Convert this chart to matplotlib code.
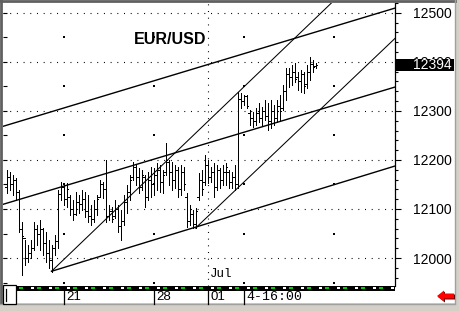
import numpy as np
import matplotlib
matplotlib.use("Agg")
from matplotlib import pyplot as plt
from matplotlib.collections import LineCollection
from matplotlib.patches import Rectangle, Polygon
from matplotlib.ticker import MultipleLocator
import matplotlib.transforms as mtransforms

plt.rcParams['lines.scale_dashes'] = False

# 4-hour bars, EUR/USD (price x 10000)
highs = [12180, 12176, 12169, 12163, 12139, 12073, 12037, 12027, 12037, 12073,
         12067, 12078, 12061, 12053, 12037, 12027, 12047, 12139, 12155, 12149,
         12153, 12129, 12118, 12135, 12129, 12139, 12135, 12129, 12108, 12118,
         12129, 12159, 12155, 12200, 12108, 12104, 12118, 12108, 12098, 12129,
         12149, 12169, 12196, 12190, 12184, 12180, 12169, 12176, 12186, 12184,
         12194, 12190, 12180, 12235, 12200, 12196, 12190, 12186, 12190, 12186,
         12133, 12108, 12098, 12102, 12173, 12180, 12210, 12200, 12186, 12194,
         12190, 12184, 12190, 12194, 12180, 12176, 12190, 12339, 12337, 12333,
         12333, 12302, 12298, 12306, 12316, 12308, 12322, 12316, 12322, 12312,
         12322, 12333, 12353, 12388, 12388, 12394, 12398, 12380, 12384, 12380,
         12394, 12410, 12404, 12398]
lows = [12133, 12139, 12129, 12118, 12053, 11965, 11986, 11992, 12000, 12016,
        12027, 12016, 12006, 11992, 11980, 11971, 12006, 12020, 12118, 12108,
        12104, 12088, 12078, 12088, 12092, 12098, 12084, 12073, 12067, 12073,
        12088, 12124, 12122, 12073, 12078, 12073, 12082, 12053, 12037, 12067,
        12092, 12118, 12159, 12149, 12133, 12139, 12104, 12118, 12124, 12129,
        12139, 12135, 12133, 12169, 12149, 12139, 12143, 12124, 12129, 12139,
        12063, 12067, 12061, 12061, 12118, 12129, 12149, 12153, 12155, 12124,
        12139, 12143, 12149, 12149, 12143, 12143, 12139, 12143, 12306, 12312,
        12306, 12271, 12267, 12271, 12278, 12271, 12282, 12261, 12265, 12271,
        12278, 12282, 12302, 12322, 12349, 12353, 12359, 12343, 12339, 12337,
        12347, 12363, 12380, 12388]
opens = [12145, 12165, 12150, 12160, 12135, 12060, 12040, 12000, 12010, 12020,
         12060, 12050, 12060, 12030, 12010, 11995, 12020, 12035, 12130, 12145,
         12120, 12125, 12100, 12090, 12115, 12110, 12120, 12095, 12085, 12080,
         12100, 12125, 12150, 12140, 12085, 12095, 12085, 12100, 12065, 12075,
         12115, 12135, 12165, 12185, 12165, 12145, 12165, 12125, 12160, 12150,
         12170, 12180, 12155, 12175, 12195, 12175, 12160, 12180, 12140, 12175,
         12125, 12075, 12090, 12070, 12125, 12160, 12155, 12190, 12165, 12175,
         12145, 12180, 12160, 12175, 12175, 12155, 12165, 12150, 12325, 12320,
         12330, 12295, 12285, 12280, 12295, 12285, 12300, 12290, 12280, 12300,
         12285, 12310, 12305, 12340, 12375, 12370, 12380, 12370, 12360, 12375,
         12355, 12380, 12395, 12392]
closes = [12165, 12150, 12160, 12135, 12060, 12045, 12000, 12010, 12020, 12060,
          12050, 12060, 12030, 12010, 11995, 12020, 12035, 12130, 12145, 12120,
          12140, 12100, 12090, 12115, 12110, 12120, 12095, 12085, 12080, 12100,
          12120, 12150, 12140, 12085, 12095, 12080, 12100, 12065, 12075, 12115,
          12135, 12160, 12185, 12165, 12145, 12170, 12125, 12160, 12150, 12170,
          12180, 12155, 12170, 12200, 12175, 12160, 12180, 12140, 12175, 12150,
          12075, 12090, 12070, 12095, 12160, 12140, 12190, 12165, 12175, 12145,
          12180, 12160, 12175, 12185, 12155, 12165, 12150, 12325, 12320, 12330,
          12310, 12285, 12280, 12295, 12285, 12300, 12290, 12280, 12300, 12285,
          12310, 12300, 12340, 12375, 12370, 12380, 12365, 12360, 12375, 12350,
          12380, 12395, 12390, 12394]

# trend lines: (bar index, price) end points
trend_lines = [
    [(-2, 12267), (129.7, 12510)],
    [(-2, 12108), (129.7, 12349)],
    [(15, 11973), (129.7, 12188)],
    [(15, 11973), (108.3, 12520)],
    [(63, 12061), (129.7, 12449)],
]

date_pos = [19, 49, 67, 79]
date_labels = ["21", "28", "01", "4-16:00"]
last_price = 12394
title = "EUR/USD"

W, H = 459, 311
fig = plt.figure(figsize=(W / 100, H / 100), dpi=100, facecolor="#d4d0c8")


def px(x, y):
    return x / W, 1 - y / H


# white panel + 3d border
fig.patches.append(Rectangle(px(0, 303), 455 / W, 303 / H, transform=fig.transFigure,
                             facecolor="white", edgecolor="none", zorder=-10))
fig.lines.append(plt.Line2D([0, 455 / W], [1 - 1 / H] * 2, transform=fig.transFigure,
                            color="#606060", lw=2.0, zorder=5))
fig.lines.append(plt.Line2D([1 / W] * 2, [1 - 303 / H, 1], transform=fig.transFigure,
                            color="#606060", lw=2.0, zorder=5))
fig.lines.append(plt.Line2D([455 / W] * 2, [1 - 303 / H, 1], transform=fig.transFigure,
                            color="#a0a0a0", lw=1.0, zorder=5))
fig.lines.append(plt.Line2D([0, 455 / W], [1 - 303.5 / H] * 2, transform=fig.transFigure,
                            color="#a0a0a0", lw=1.0, zorder=5))

ax = fig.add_axes([3 / W, 1 - 286 / H, 392 / W, 283 / H])
ax.set_facecolor("none")
ax.set_xlim(-1.17, 129.5)
ax.set_ylim(11943, 12520)

# OHLC bars
idx = np.arange(len(highs))
segs = []
for i in idx:
    segs.append([(i, lows[i]), (i, highs[i])])
    segs.append([(i - 0.34, opens[i]), (i, opens[i])])
    segs.append([(i, closes[i]), (i + 0.34, closes[i])])
ax.add_collection(LineCollection(segs, colors="black", linewidths=0.55, antialiased=False,
                                 snap=True, zorder=3))

# trend lines
for k, ((x0, y0), (x1, y1)) in enumerate(trend_lines):
    ax.plot([x0, x1], [y0, y1], color="black", lw=1.0 if k < 3 else 0.75, zorder=4)

# dotted grid
dots = (0, (0.72, 4.1))
for lvl in range(12000, 12501, 100):
    ax.axhline(lvl, color="black", lw=0.8, linestyle=dots, zorder=1)
ax.axvline(date_pos[2], color="black", lw=0.8, linestyle=dots, zorder=1)
gx, gy = np.meshgrid([19, 49, 79, 109], np.arange(11950, 12500, 100))
ax.scatter(gx.ravel(), gy.ravel(), marker="s", s=1.2, color="black", linewidths=0, zorder=1)

ax.text(42.3, 12446, title, fontsize=11.5, fontweight="bold", family="Liberation Sans",
        ha="left", va="center", zorder=5)
ax.text(date_pos[2] + 0.7, 11955, "Jul", fontsize=9, family="Liberation Mono",
        ha="left", va="bottom", zorder=5)

# axes styling
for s in ["top", "left", "bottom"]:
    ax.spines[s].set_visible(False)
ax.spines["right"].set_linewidth(0.9)
ax.set_xticks([])
ax.yaxis.tick_right()
ax.yaxis.set_major_locator(MultipleLocator(100))
ax.yaxis.set_minor_locator(MultipleLocator(20))
ax.tick_params(axis="y", which="major", direction="out", length=4, width=0.8, pad=37,
               labelsize=10, labelfontfamily="Liberation Sans")
ax.tick_params(axis="y", which="minor", direction="out", length=2.5, width=0.8)
ax.set_yticks(np.arange(12000, 12501, 100))
ax.set_yticklabels([str(v) for v in range(12000, 12501, 100)])
for lab in ax.get_yticklabels():
    lab.set_ha("right")

left = ax.secondary_yaxis("left")
left.yaxis.set_major_locator(MultipleLocator(50))
left.tick_params(direction="in", length=3, width=0.8, labelleft=False)
left.spines["left"].set_visible(False)

# last price box
tr = mtransforms.blended_transform_factory(ax.transAxes, ax.transData)
ax.add_patch(Rectangle((1.0, last_price - 12), (454 - 395) / 392, 24, transform=tr,
                       facecolor="black", edgecolor="none", clip_on=False, zorder=10))
ax.text(1.0 + (452 - 395) / 392, last_price, str(last_price), transform=tr, color="white",
        fontsize=10, family="Liberation Sans", ha="right", va="center", zorder=11, clip_on=False)

# bottom session strip
strip = fig.add_axes([15 / W, 1 - 290.5 / H, 380 / W, 4.5 / H])
strip.set_xlim(3, 383)
strip.set_ylim(0, 1)
strip.axis("off")
strip.add_patch(Rectangle((3, 0), 380, 1, facecolor="black", edgecolor="none"))
for x0 in np.arange(7, 380, 18):
    strip.add_patch(Rectangle((x0, 0.25), 4, 0.5, facecolor="#00d000", edgecolor="none"))
for x0 in np.arange(19, 380, 18):
    strip.add_patch(Rectangle((x0, 0.25), 3, 0.5, facecolor="white", edgecolor="none"))

# date labels below
trx = mtransforms.blended_transform_factory(ax.transData, fig.transFigure)
for p, lab in zip(date_pos, date_labels):
    fig.lines.append(plt.Line2D([ax.transData.transform((p, 0))[0] / W] * 2,
                                [1 - 304 / H, 1 - 291 / H], transform=fig.transFigure,
                                color="black", lw=0.9, zorder=5))
    fam = "Liberation Mono" if "-" in lab else "Liberation Sans"
    ax.text(p + 0.9, 1 - 297.5 / H, lab, transform=trx, fontsize=9.5, family=fam,
            ha="left", va="center", clip_on=False)

# left scroll box
fig.patches.append(Rectangle(px(3, 304), 13 / W, 19 / H, transform=fig.transFigure,
                             facecolor="white", edgecolor="black", lw=0.9, zorder=5))
fig.lines.append(plt.Line2D([5.5 / W] * 2, [1 - 301 / H, 1 - 289 / H], transform=fig.transFigure,
                            color="black", lw=0.9, zorder=6))

# red arrow
arrow_pts = [(437, 296), (444, 290.5), (444, 293.5), (454, 293.5), (454, 298.5),
             (444, 298.5), (444, 301.5)]
shadow = Polygon([px(x + 1, y + 1) for x, y in arrow_pts], closed=True,
                 transform=fig.transFigure, facecolor="#600000", edgecolor="none", zorder=5)
arrow = Polygon([px(x, y) for x, y in arrow_pts], closed=True,
                transform=fig.transFigure, facecolor="#ff0000", edgecolor="none", zorder=6)
fig.patches.extend([shadow, arrow])

fig.savefig("out.png", dpi=100, facecolor=fig.get_facecolor())
